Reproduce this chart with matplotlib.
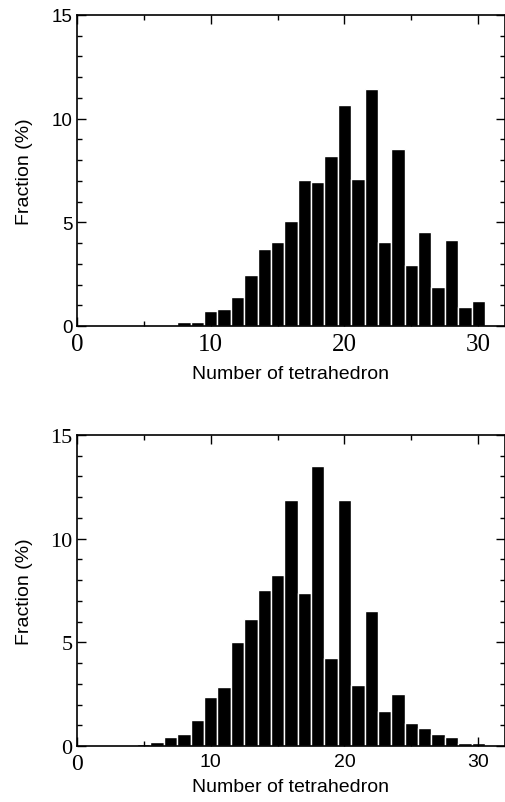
"""
Tetrahedron count histograms (two panels, stacked).
"""

import matplotlib
matplotlib.use("Agg")
import matplotlib.pyplot as plt
from matplotlib.ticker import MultipleLocator

SERIF = "Liberation Serif"
SANS = "Liberation Sans"

# Top panel: number of tetrahedra vs fraction (%)
top_counts = list(range(7, 31))
top_fraction = [0.06, 0.19, 0.19, 0.72, 0.84, 1.38, 2.46, 3.73, 4.06, 5.04,
                7.02, 6.95, 8.22, 10.66, 7.08, 11.43, 4.06, 8.56, 2.94, 4.54,
                1.86, 4.14, 0.90, 1.20]

# Bottom panel
bottom_counts = list(range(5, 31))
bottom_fraction = [0.10, 0.21, 0.42, 0.58, 1.24, 2.36, 2.87, 5.01, 6.13, 7.52,
                   8.27, 11.88, 7.37, 13.52, 4.26, 11.88, 2.94, 6.52, 1.69, 2.49,
                   1.09, 0.87, 0.58, 0.45, 0.16, 0.16]

X_TICKS = [0, 10, 20, 30]
Y_TICKS = [0, 5, 10, 15]


def style_axes(ax):
    ax.set_xlim(0, 32)
    ax.set_ylim(0, 15)
    ax.set_xticks(X_TICKS)
    ax.set_yticks(Y_TICKS)
    ax.xaxis.set_minor_locator(MultipleLocator(5))
    ax.yaxis.set_minor_locator(MultipleLocator(1))
    ax.tick_params(which="both", direction="in", top=True, right=True, width=1.0)
    ax.tick_params(which="major", length=6.5)
    ax.tick_params(which="minor", length=3.5)
    ax.tick_params(axis="x", pad=5)
    ax.tick_params(axis="y", pad=3)
    for sp in ax.spines.values():
        sp.set_linewidth(1.2)
    ax.set_ylabel("Fraction (%)", family=SANS, fontsize=14)
    ax.yaxis.set_label_coords(-0.103, 0.5)
    ax.set_xlabel("Number of tetrahedron", family=SANS, fontsize=14)


def draw_hist(ax, counts, fraction):
    ax.bar(counts, fraction, width=1.0, color="black",
           edgecolor="white", linewidth=1.0)


fig = plt.figure(figsize=(5.06, 8.03), dpi=100)

ax1 = fig.add_axes([0.152, 0.5928, 0.846, 0.3873])
draw_hist(ax1, top_counts, top_fraction)
style_axes(ax1)
ax1.xaxis.set_label_coords(0.5, -0.125)
for lab in ax1.get_xticklabels():
    lab.set_fontfamily(SERIF)
    lab.set_fontsize(18)
for lab in ax1.get_yticklabels():
    lab.set_fontfamily(SANS)
    lab.set_fontsize(13.5)

ax2 = fig.add_axes([0.152, 0.0697, 0.846, 0.3873])
draw_hist(ax2, bottom_counts, bottom_fraction)
style_axes(ax2)
ax2.xaxis.set_label_coords(0.5, -0.104)
for lab in ax2.get_yticklabels():
    lab.set_fontfamily(SERIF)
    lab.set_fontsize(16)
for i, lab in enumerate(ax2.get_xticklabels()):
    if i == 0:
        lab.set_fontfamily(SERIF)
        lab.set_fontsize(17)
    else:
        lab.set_fontfamily(SANS)
        lab.set_fontsize(14)

fig.savefig("out.png", dpi=100)
